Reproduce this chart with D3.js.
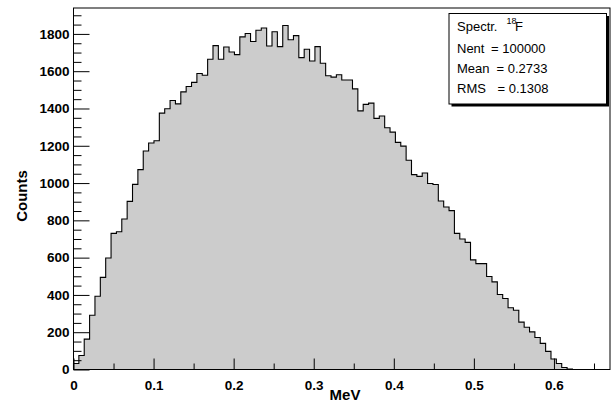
<!DOCTYPE html>
<html>
<head>
<meta charset="utf-8">
<script src="https://cdn.jsdelivr.net/npm/d3@7"></script>
<style>
  body { margin: 0; background: #fff; }
  text { font-family: "Liberation Sans", Arial, sans-serif; }
</style>
</head>
<body>
<div id="chart"></div>
<script>
// histogram of 18F spectrum, 100 bins on [0, 0.67] MeV
const xMin = 0;
const xMax = 0.67;
const counts = [
    32, 75, 163, 291, 393, 494, 598, 730, 739, 807,
    902, 993, 1072, 1172, 1215, 1227, 1375, 1399, 1443, 1425,
    1489, 1518, 1540, 1588, 1578, 1664, 1737, 1664, 1730, 1703,
    1689, 1784, 1802, 1759, 1820, 1832, 1735, 1812, 1732, 1845,
    1769, 1791, 1673, 1718, 1655, 1732, 1643, 1576, 1568, 1581,
    1553, 1553, 1505, 1387, 1422, 1429, 1347, 1360, 1297, 1273,
    1218, 1198, 1122, 1045, 1036, 1054, 998, 992, 904, 872,
    852, 730, 700, 682, 588, 568, 568, 499, 470, 402,
    381, 331, 318, 254, 227, 202, 172, 140, 97, 56,
    32, 11, 2, 0, 0, 0, 0, 0, 0, 0
];
const xTicks = [0, 0.1, 0.2, 0.3, 0.4, 0.5, 0.6];
const xMinorTicks = [0.05, 0.15, 0.25, 0.35, 0.45, 0.55, 0.65];
const yTicks = [0, 200, 400, 600, 800, 1000, 1200, 1400, 1600, 1800];
const yMinorTicks = [50, 100, 150, 250, 300, 350, 450, 500, 550, 650, 700, 750, 850, 900, 950,
    1050, 1100, 1150, 1250, 1300, 1350, 1450, 1500, 1550, 1650, 1700, 1750, 1850, 1900];
const yMax = 1939;
const statLabels = ['Nent', 'Mean', 'RMS'];
const statValues = ['100000', '0.2733', '0.1308'];

const width = 611;
const height = 401;
const frameL = 73.5, frameR = 610, frameT = 8, frameB = 369.5;

const binWidth = (xMax - xMin) / counts.length;
let bins = counts.map((c, i) => ({ x: xMin + i * binWidth, v: c }));
bins.push({ x: xMax, v: counts[counts.length - 1] });

const xScale = d3.scaleLinear().domain([xMin, xMax]).range([frameL, frameR]);
const yScale = d3.scaleLinear().domain([0, yMax]).range([frameB, frameT]);

let svg = d3.select('#chart')
    .append('svg')
    .attr('width', width)
    .attr('height', height);

svg.append('rect')
    .attr('width', width).attr('height', height)
    .attr('fill', '#fff');

// filled histogram
svg.append('path')
    .datum(bins)
    .attr('fill', '#cccccc')
    .attr('d', d3.area()
        .x(d => xScale(d.x))
        .y0(yScale(0))
        .y1(d => yScale(d.v))
        .curve(d3.curveStepAfter));

let outline = [{ x: xMin, v: 0 }].concat(bins);
svg.append('path')
    .datum(outline)
    .attr('fill', 'none')
    .attr('stroke', '#000')
    .attr('stroke-width', 1.1)
    .attr('d', d3.line()
        .x(d => xScale(d.x))
        .y(d => yScale(d.v))
        .curve(d3.curveStepAfter));

// frame
svg.append('rect')
    .attr('x', frameL).attr('y', frameT)
    .attr('width', frameR - frameL).attr('height', frameB - frameT)
    .attr('fill', 'none')
    .attr('stroke', '#000')
    .attr('stroke-width', 1);

// y axis
svg.append('g')
    .attr('transform', `translate(${frameL},0)`)
    .call(d3.axisLeft(yScale).tickValues(yTicks).tickSize(-16).tickPadding(4).tickFormat(d3.format('d')));
svg.append('g')
    .attr('transform', `translate(${frameL},0)`)
    .call(d3.axisLeft(yScale).tickValues(yMinorTicks).tickSize(-8).tickFormat(''));

// x axis
svg.append('g')
    .attr('transform', `translate(0,${frameB})`)
    .call(d3.axisBottom(xScale).tickValues(xTicks).tickSize(-11).tickPadding(11).tickFormat(d => d === 0 ? '0' : d3.format('.1f')(d)));
svg.append('g')
    .attr('transform', `translate(0,${frameB})`)
    .call(d3.axisBottom(xScale).tickValues(xMinorTicks).tickSize(-6).tickFormat(''));

svg.selectAll('.domain').remove();
svg.selectAll('.tick line').attr('stroke', '#000');
svg.selectAll('.tick text')
    .attr('fill', '#000')
    .style('font-family', '"Liberation Sans", Arial, sans-serif')
    .style('font-size', '13.5px')
    .style('font-weight', 'bold');

// axis titles
svg.append('text')
    .attr('transform', 'translate(26.5,196) rotate(-90)')
    .attr('text-anchor', 'middle')
    .style('font-size', '15px')
    .style('font-weight', 'bold')
    .text('Counts');

svg.append('text')
    .attr('x', 345)
    .attr('y', 400)
    .attr('text-anchor', 'middle')
    .style('font-size', '15px')
    .style('font-weight', 'bold')
    .text('MeV');

// stats box
const bx = 449, by = 13.5, bw = 157.5, bh = 90.5;
svg.append('rect')
    .attr('x', bx + 2.5).attr('y', by + 2.5)
    .attr('width', bw).attr('height', bh)
    .attr('fill', '#000');
svg.append('rect')
    .attr('x', bx).attr('y', by)
    .attr('width', bw).attr('height', bh)
    .attr('fill', '#fff')
    .attr('stroke', '#000')
    .attr('stroke-width', 1);

let stats = svg.append('g').style('font-size', '13px');
stats.append('text').attr('x', 457).attr('y', 30.7).text('Spectr.');
stats.append('text').attr('x', 506.5).attr('y', 23.5).style('font-size', '9px').text('18');
stats.append('text').attr('x', 515).attr('y', 30.7).text('F');

const eqX = [491, 496.5, 497.5];
statLabels.forEach((lab, i) => {
    let yy = 53.3 + i * 19.6;
    stats.append('text').attr('x', 457).attr('y', yy).text(lab);
    stats.append('text').attr('x', eqX[i]).attr('y', yy).text('= ' + statValues[i]);
});
</script>
</body>
</html>
